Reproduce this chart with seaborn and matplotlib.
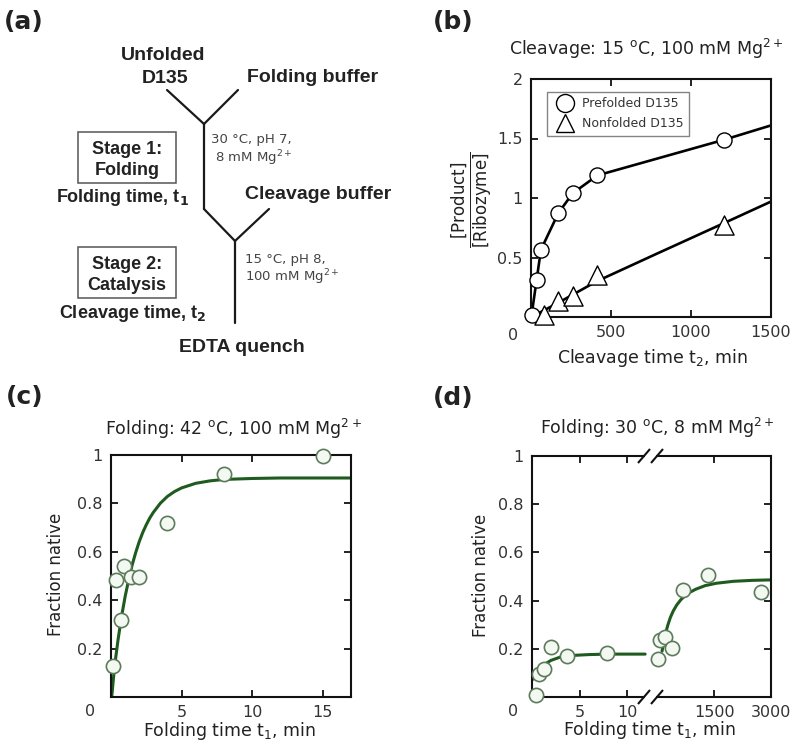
import numpy as np
import pandas as pd
import matplotlib
matplotlib.use("Agg")
import matplotlib.pyplot as plt
import seaborn as sns
from matplotlib.lines import Line2D
from matplotlib.patches import Rectangle

# ---------------- data ----------------
# (b) cleavage kinetics
b_pre_t = [4, 35, 62, 171, 261, 415, 1208]
b_pre_y = [0.02, 0.31, 0.565, 0.874, 1.04, 1.19, 1.49]
b_pre_fit_t = [4, 35, 62, 171, 261, 415, 1208, 1500]
b_pre_fit_y = [0.02, 0.31, 0.565, 0.874, 1.04, 1.19, 1.49, 1.61]
b_non_t = [83, 171, 264, 411, 1208]
b_non_y = [0.02, 0.131, 0.173, 0.355, 0.77]
b_non_fit_t = [45, 171, 264, 411, 775, 1208, 1500]
b_non_fit_y = [0.03, 0.12, 0.19, 0.30, 0.525, 0.79, 0.97]
b_xticks = [500, 1000, 1500]
b_yticks = [0.5, 1, 1.5, 2]
b_yticklabels = ["0.5", "1", "1.5", "2"]
b_legend = ["Prefolded D135", "Nonfolded D135"]

# (c) folding at 42 C
c_t = [0.17, 0.35, 0.69, 0.93, 1.4, 2.0, 3.97, 8.0, 15.0]
c_y = [0.127, 0.483, 0.317, 0.541, 0.497, 0.497, 0.72, 0.921, 0.996]
c_fit_t = [0.05, 0.25, 0.5, 0.75, 1, 1.25, 1.5, 1.75, 2, 2.25, 2.5, 2.75, 3, 3.5, 4,
           4.5, 5, 6, 7, 8, 10, 12, 14, 17]
c_fit_y = [0.0, 0.125, 0.237, 0.333, 0.415, 0.484, 0.546, 0.597, 0.642, 0.680,
           0.712, 0.740, 0.763, 0.801, 0.829, 0.849, 0.864, 0.883, 0.893, 0.899,
           0.903, 0.905, 0.905, 0.905]
c_xticks = [5, 10, 15]

# (d) folding at 30 C (broken time axis)
d_early_t = [0.42, 0.7, 1.22, 2.03, 3.67, 7.87]
d_early_y = [0.007, 0.097, 0.118, 0.208, 0.169, 0.183]
d_early_fit_t = [0, 0.5, 1, 1.5, 2, 3, 4, 6, 8, 11.9]
d_early_fit_y = [0.07, 0.10, 0.125, 0.14, 0.152, 0.166, 0.172, 0.176, 0.178, 0.178]
d_late_t = [9, 55, 200, 365, 660, 1340, 2735]
d_late_y = [0.157, 0.236, 0.250, 0.205, 0.445, 0.508, 0.434]
d_late_fit_t = [110, 150, 200, 260, 330, 410, 500, 600, 700, 820, 1000, 1250, 1550,
                2000, 2500, 3000]
d_late_fit_y = [0.19, 0.225, 0.262, 0.297, 0.33, 0.358, 0.382, 0.402, 0.418, 0.432,
                0.447, 0.462, 0.472, 0.48, 0.484, 0.486]
d_xticks_early = [5, 10]
d_xticks_late = [1500, 3000]

frac_yticks = [0.2, 0.4, 0.6, 0.8, 1.0]
frac_yticklabels = ["0.2", "0.4", "0.6", "0.8", "1"]

# ---------------- style ----------------
sns.set_style("ticks")
plt.rcParams["font.family"] = ["DejaVu Sans"]
plt.rcParams["mathtext.fontset"] = "dejavusans"

W, H = 800, 749
fig = plt.figure(figsize=(W / 100, H / 100), dpi=100)


def rect(l, t, r, b):
    return [l / W, 1 - b / H, (r - l) / W, (b - t) / H]


TXT = "#222222"
GREEN = "#1f5a1f"
CEDGE = "#5c7a5c"
CFACE = "#f3f9f1"


def style_ax(ax, top=True, right=True, left=True):
    for s in ax.spines.values():
        s.set_linewidth(1.5)
        s.set_color("#111111")
    ax.tick_params(axis="both", direction="in", length=5, width=1.3,
                   top=top, right=right, left=left, labelsize=11.5,
                   labelcolor="#333333", color="#111111")
    ax.tick_params(axis="x", pad=6)
    ax.tick_params(axis="y", pad=6)
    ax.set_xlabel("")
    ax.set_ylabel("")


# ---------------- (b) ----------------
axb = fig.add_axes(rect(531, 79, 771, 317))
sns.lineplot(x=b_pre_fit_t, y=b_pre_fit_y, ax=axb, color="black", lw=1.9,
             sort=False, estimator=None)
sns.lineplot(x=b_non_fit_t, y=b_non_fit_y, ax=axb, color="black", lw=1.9,
             sort=False, estimator=None)
sns.scatterplot(x=b_pre_t, y=b_pre_y, ax=axb, marker="o", s=118, color="white",
                edgecolor="black", linewidth=1.0, zorder=3, clip_on=False)
sns.scatterplot(x=b_non_t, y=b_non_y, ax=axb, marker="^", s=190, color="white",
                edgecolor="black", linewidth=1.0, zorder=3, clip_on=False)
axb.set_xlim(0, 1500)
axb.set_ylim(0, 2)
axb.set_xticks(b_xticks)
axb.set_yticks(b_yticks)
axb.set_yticklabels(b_yticklabels)
style_ax(axb)
handles = [Line2D([], [], marker="o", ls="none", mfc="white", mec="black", ms=13, mew=1.0),
           Line2D([], [], marker="^", ls="none", mfc="white", mec="black", ms=13, mew=1.0)]
leg = axb.legend(handles, b_legend, loc="upper left", bbox_to_anchor=(0.065, 0.947),
                 borderaxespad=0, fancybox=False, frameon=True, fontsize=9,
                 handletextpad=0.35, borderpad=0.45, labelspacing=0.55, handlelength=2.0)
leg.get_frame().set_edgecolor("#666666")
leg.get_frame().set_linewidth(1.0)
for t in leg.get_texts():
    t.set_color("#333333")

# ---------------- (c) ----------------
axc = fig.add_axes(rect(111, 455, 351, 697))
sns.lineplot(x=c_fit_t, y=c_fit_y, ax=axc, color=GREEN, lw=2.2, sort=False, estimator=None)
sns.scatterplot(x=c_t, y=c_y, ax=axc, marker="o", s=105, color=CFACE,
                edgecolor=CEDGE, linewidth=1.2, zorder=3, clip_on=False)
axc.set_xlim(0, 17)
axc.set_ylim(0, 1)
axc.set_xticks(c_xticks)
axc.set_yticks(frac_yticks)
axc.set_yticklabels(frac_yticklabels)
style_ax(axc)

# ---------------- (d) ----------------
axd1 = fig.add_axes(rect(532, 456, 650, 697))
axd2 = fig.add_axes(rect(650, 456, 771, 697))
sns.lineplot(x=d_early_fit_t, y=d_early_fit_y, ax=axd1, color=GREEN, lw=2.2, sort=False, estimator=None)
sns.scatterplot(x=d_early_t, y=d_early_y, ax=axd1, marker="o", s=105, color=CFACE,
                edgecolor=CEDGE, linewidth=1.2, zorder=3, clip_on=False)
sns.lineplot(x=d_late_fit_t, y=d_late_fit_y, ax=axd2, color=GREEN, lw=2.2, sort=False, estimator=None)
sns.scatterplot(x=d_late_t, y=d_late_y, ax=axd2, marker="o", s=105, color=CFACE,
                edgecolor=CEDGE, linewidth=1.2, zorder=3, clip_on=False)
axd1.set_xlim(0, 12.41)
axd2.set_xlim(-210, 3000)
for a in (axd1, axd2):
    a.set_ylim(0, 1)
axd1.set_xticks(d_xticks_early)
axd2.set_xticks(d_xticks_late)
axd1.set_yticks(frac_yticks)
axd1.set_yticklabels(frac_yticklabels)
axd2.set_yticks(frac_yticks)
style_ax(axd1, right=False)
style_ax(axd2, left=False)
axd2.tick_params(axis="y", labelleft=False)
axd1.spines["right"].set_visible(False)
axd2.spines["left"].set_visible(False)

# ---------------- overlay (diagram + labels) ----------------
ov = fig.add_axes([0, 0, 1, 1], zorder=10)
ov.set_xlim(0, W)
ov.set_ylim(H, 0)
ov.axis("off")
ov.patch.set_alpha(0)

# break marks on (d)
for yb in (456, 697):
    ov.add_patch(Rectangle((645, yb - 2.5), 11, 5, facecolor="white", edgecolor="none", zorder=5))
    for xc in (644, 657):
        ov.plot([xc - 6, xc + 6], [yb + 7, yb - 7], color="#111111", lw=1.5, zorder=6,
                solid_capstyle="butt")

# panel letters
for s, (x, y) in {"(a)": (24, 22), "(b)": (453, 22), "(c)": (25, 397), "(d)": (453, 398)}.items():
    ov.text(x, y, s, fontsize=18, fontweight="bold", ha="center", va="center", color=TXT)

# corner zeros
for x, y in [(513, 335), (90, 712), (513, 712)]:
    ov.text(x, y, "0", fontsize=11.5, ha="center", va="center", color="#333333")

# titles
ov.text(646, 55, r"Cleavage: 15 $^{\mathrm{o}}$C, 100 mM Mg$^{2+}$", fontsize=12.5,
        ha="center", va="baseline", color=TXT)
ov.text(233, 435, r"Folding: 42 $^{\mathrm{o}}$C, 100 mM Mg$^{2+}$", fontsize=12.5,
        ha="center", va="baseline", color=TXT)
ov.text(657, 434, r"Folding: 30 $^{\mathrm{o}}$C, 8 mM Mg$^{2+}$", fontsize=12.5,
        ha="center", va="baseline", color=TXT)

# axis labels
ov.text(652, 363, r"Cleavage time t$_2$, min", fontsize=12.5, ha="center", va="baseline", color=TXT)
ov.text(230, 736, r"Folding time t$_1$, min", fontsize=12.5, ha="center", va="baseline", color=TXT)
ov.text(650, 735, r"Folding time t$_1$, min", fontsize=12.5, ha="center", va="baseline", color=TXT)
ov.text(56, 574, "Fraction native", fontsize=12, rotation=90, ha="center", va="center", color=TXT)
ov.text(481, 575, "Fraction native", fontsize=12, rotation=90, ha="center", va="center", color=TXT)
ov.text(472, 200, r"$\dfrac{[\mathrm{Product}]}{[\mathrm{Ribozyme}]}$", fontsize=12,
        rotation=90, ha="center", va="center", color=TXT)

# ---- diagram (a) ----
LW = 1.6
segs = [((167, 90), (204, 124)), ((238, 90), (204, 124)), ((204, 124), (204, 209)),
        ((204, 209), (235, 241)), ((269, 209), (235, 241)), ((235, 241), (235, 323))]
for (x0, y0), (x1, y1) in segs:
    ov.plot([x0, x1], [y0, y1], color="#1a1a1a", lw=LW, solid_capstyle="round")

BF = dict(family=["Liberation Sans", "DejaVu Sans"], fontweight="bold", color=TXT)
ov.text(163, 60, "Unfolded", fontsize=14, ha="center", va="baseline", **BF)
ov.text(165, 83, "D135", fontsize=14, ha="center", va="baseline", **BF)
ov.text(313, 82, "Folding buffer", fontsize=14, ha="center", va="baseline", **BF)
ov.text(318, 199, "Cleavage buffer", fontsize=14, ha="center", va="baseline", **BF)
ov.text(242, 352, "EDTA quench", fontsize=14, ha="center", va="baseline", **BF)

ov.add_patch(Rectangle((78, 132), 98, 51, fill=False, edgecolor="#555555", lw=1.1))
ov.add_patch(Rectangle((78, 247), 98, 51, fill=False, edgecolor="#555555", lw=1.1))
ov.text(127, 154, "Stage 1:", fontsize=13, ha="center", va="baseline", **BF)
ov.text(127, 175, "Folding", fontsize=13, ha="center", va="baseline", **BF)
ov.text(127, 269, "Stage 2:", fontsize=13, ha="center", va="baseline", **BF)
ov.text(127, 290, "Catalysis", fontsize=13, ha="center", va="baseline", **BF)
ov.text(123, 202, r"Folding time, t$_{\mathbf{1}}$", fontsize=13, ha="center", va="baseline", **BF)
ov.text(132, 318, r"Cleavage time, t$_{\mathbf{2}}$", fontsize=13, ha="center", va="baseline", **BF)

CF = dict(color="#444444", fontsize=9.5)
ov.text(211, 143, "30 °C, pH 7,", ha="left", va="baseline", **CF)
ov.text(215, 162, r"8 mM Mg$^{2+}$", ha="left", va="baseline", **CF)
ov.text(245, 263, "15 °C, pH 8,", ha="left", va="baseline", **CF)
ov.text(245, 281, r"100 mM Mg$^{2+}$", ha="left", va="baseline", **CF)

fig.savefig("out.png", dpi=100)
